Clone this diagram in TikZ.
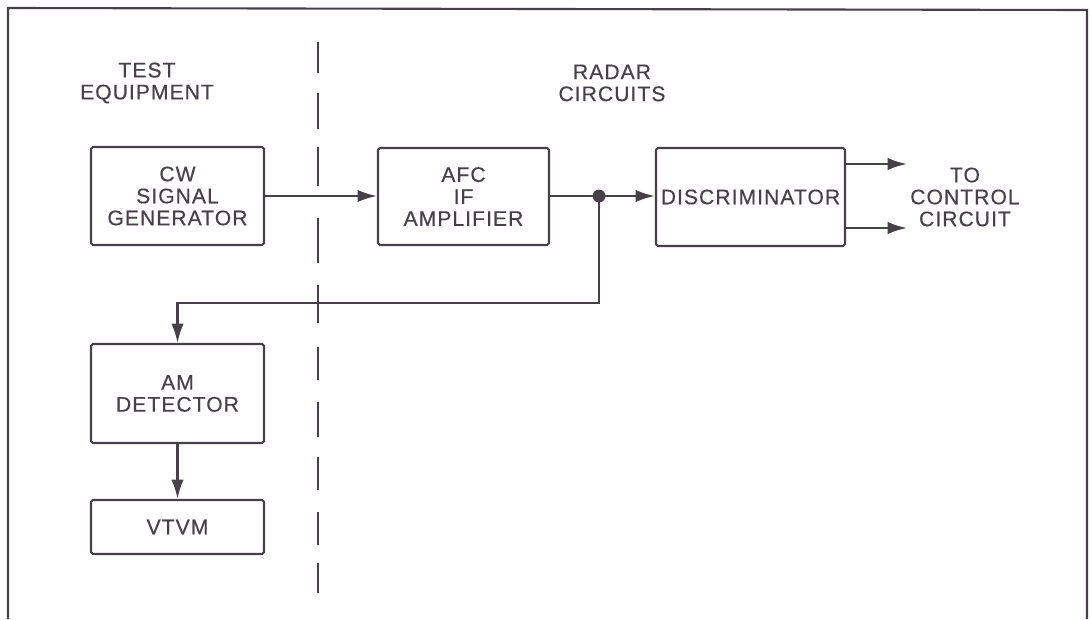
\documentclass[tikz,border=0pt]{standalone}
\usepackage{fontspec}
\setmainfont{Liberation Sans}[LetterSpace=5, FakeBold=0.4]
\usetikzlibrary{arrows.meta}
\definecolor{ink}{RGB}{72,64,72}
\tikzset{
	blk/.style={draw=ink, line width=1.2pt, inner sep=0pt, align=center, rounded corners=1pt, text=ink},
	lbl/.style={align=center, inner sep=0pt, text=ink},
	sig/.style={draw=ink, line width=1.2pt, -{Latex[length=11pt, width=7pt]}},
}
\begin{document}
\begin{tikzpicture}[x=0.02cm, y=-0.02cm, font=\fontsize{12}{12.5}\selectfont]
	\useasboundingbox (0,0) rectangle (1092,619);
	% frame, open at the bottom
	\draw[ink, line width=1.2pt] (8,619)--(8,8)--(1087,10)--(1087,619);
	% dashed divider
	\foreach \a/\b in {42/73, 93/129, 147/186, 218/263, 285/323, 347/380, 402/437, 457/490, 512/545, 563/593} \draw[ink, line width=1.2pt] (318,\a)--(318,\b);
	\node[lbl] (test) at (147,83) {TEST\\EQUIPMENT};
	\node[lbl] (radar) at (612,83) {RADAR\\CIRCUITS};
	\node[blk, minimum width=3.46cm, minimum height=1.96cm] (cw) at (177.5,196) {CW\\SIGNAL\\GENERATOR};
	\node[blk, minimum width=3.42cm, minimum height=1.94cm] (afc) at (463.5,196.5) {AFC\\IF\\AMPLIFIER};
	\node[blk, minimum width=3.78cm, minimum height=1.96cm] (disc) at (750.5,197) {DISCRIMINATOR};
	\node[blk, minimum width=3.46cm, minimum height=1.98cm] (am) at (177.5,393.5) {AM\\DETECTOR};
	\node[blk, minimum width=3.46cm, minimum height=1.08cm] (vtvm) at (177.5,527) {VTVM};
	\node[lbl] (ctrl) at (965,197) {TO\\CONTROL\\CIRCUIT};
	\node[circle, fill=ink, inner sep=0pt, minimum size=0.26cm] (split) at (599,196) {};
	\coordinate (turn) at (599,303);
	\coordinate (outa) at (907,164);
	\coordinate (outb) at (907,228);
	\draw[sig] (cw.east |- split) -- (afc.west |- split);
	\draw[ink, line width=1.2pt] (afc.east |- split) -- (split.center);
	\draw[sig] (split.center) -- (disc.west |- split);
	\draw[sig] (split.center) -- (turn) -| (am.north);
	\draw[sig] (am) -- (vtvm);
	\draw[sig] (disc.east |- outa) -- (outa);
	\draw[sig] (disc.east |- outb) -- (outb);
\end{tikzpicture}
\end{document}
